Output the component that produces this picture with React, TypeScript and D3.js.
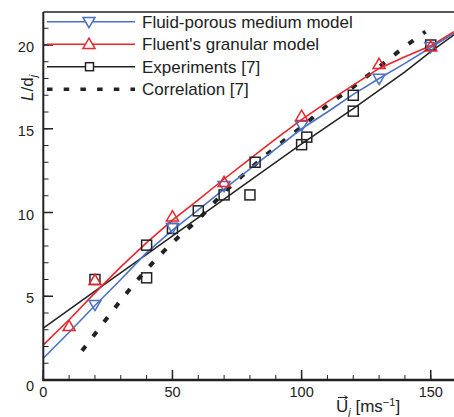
import React from "react";
import * as d3 from "d3";

const xMajor = [0, 50, 100, 150];
const yMajor = [0, 5, 10, 15, 20];

const blueLineU = [0, 10, 20, 30, 40, 50, 60, 70, 80, 90, 100, 110, 120, 130, 140, 150, 159];
const blueLineL = [1.3, 2.85, 4.45, 6.0, 7.6, 8.95, 10.15, 11.4, 12.6, 13.8, 15.0, 16.0, 17.05, 18.0, 18.9, 19.85, 20.7];
const redLineU = [0, 10, 20, 30, 40, 50, 60, 70, 80, 90, 100, 110, 120, 130, 140, 150, 159];
const redLineL = [2.1, 3.6, 5.2, 6.75, 8.2, 9.55, 10.75, 12.0, 13.2, 14.4, 15.55, 16.6, 17.6, 18.6, 19.3, 19.95, 20.8];
const blackLineU = [0, 20, 40, 60, 80, 100, 120, 140, 150, 159];
const blackLineL = [3.1, 5.3, 7.5, 9.7, 11.9, 14.1, 16.2, 18.4, 19.6, 20.6];
const corrU = [15, 20, 30, 40, 50, 60, 70, 80, 90, 100, 110, 120, 130, 140, 148];
const corrL = [1.75, 2.75, 4.75, 6.6, 8.2, 9.6, 11.2, 12.6, 13.9, 15.1, 16.4, 17.5, 18.7, 19.9, 20.8];

const blueMarkU = [20, 50, 70, 100, 130, 150];
const blueMarkL = [4.5, 9.1, 11.6, 15.2, 18.0, 19.9];
const redMarkU = [10, 20, 50, 70, 100, 130, 150];
const redMarkL = [3.2, 5.95, 9.75, 11.8, 15.75, 18.85, 19.9];
const expU = [20, 40, 40, 50, 60, 70, 80, 82, 100, 102, 120, 120, 150];
const expL = [6.0, 6.1, 8.05, 9.05, 10.1, 11.05, 11.05, 13.0, 14.05, 14.5, 16.05, 17.0, 20.0];

const legendLabels = ["Fluid-porous medium model", "Fluent's granular model", "Experiments [7]", "Correlation [7]"];

const BLUE = "#4a72c4";
const RED = "#e8262b";
const BLACK = "#222222";
const FONT = "'Liberation Sans', Arial, Helvetica, sans-serif";

const W = 454, H = 417;

const x = d3.scaleLinear().domain([0, 159]).range([43.3, 454]);
const y = d3.scaleLinear().domain([0, 22]).range([380, 11.5]);

const pairs = (u: number[], l: number[]) => u.map((v, i) => [v, l[i]] as [number, number]);

const lineGen = d3.line<[number, number]>().x(d => x(d[0])).y(d => y(d[1]));
const curveGen = d3.line<[number, number]>().x(d => x(d[0])).y(d => y(d[1])).curve(d3.curveMonotoneX);

const triUp = (cx: number, cy: number, s = 6) => `M${cx},${cy - s}L${cx + s},${cy + s * 0.7}L${cx - s},${cy + s * 0.7}Z`;
const triDown = (cx: number, cy: number, s = 6) => `M${cx},${cy + s}L${cx + s},${cy - s * 0.7}L${cx - s},${cy - s * 0.7}Z`;

export default function App() {
  const xMinor = d3.range(0, 159, 10);
  const yMinor = d3.range(0, 22, 1);
  const legendY = [21.7, 44.2, 66.7, 89.2];
  return (
    <svg width={W} height={H} style={{ position: "absolute", left: 0, top: 0, background: "#fff" }} fontFamily={FONT}>
      <rect x={0} y={0} width={W} height={H} fill="#fff" />
      {/* data lines */}
      <path d={curveGen(pairs(corrU, corrL)) || ""} fill="none" stroke={BLACK} strokeWidth={4} strokeDasharray="6 12" />
      <path d={lineGen(pairs(blackLineU, blackLineL)) || ""} fill="none" stroke={BLACK} strokeWidth={1.5} />
      <path d={lineGen(pairs(blueLineU, blueLineL)) || ""} fill="none" stroke={BLUE} strokeWidth={1.6} />
      <path d={lineGen(pairs(redLineU, redLineL)) || ""} fill="none" stroke={RED} strokeWidth={1.6} />
      {/* markers */}
      {expU.map((u, i) => (
        <rect key={"e" + i} x={x(u) - 5} y={y(expL[i]) - 5} width={10} height={10} fill="none" stroke={BLACK} strokeWidth={1.5} />
      ))}
      {blueMarkU.map((u, i) => (
        <path key={"b" + i} d={triDown(x(u), y(blueMarkL[i]))} fill="none" stroke={BLUE} strokeWidth={1.5} />
      ))}
      {redMarkU.map((u, i) => (
        <path key={"r" + i} d={triUp(x(u), y(redMarkL[i]))} fill="none" stroke={RED} strokeWidth={1.5} />
      ))}
      {/* frame */}
      <line x1={43.3} x2={W} y1={12} y2={12} stroke={BLACK} strokeWidth={1.5} />
      <line x1={43.3} x2={43.3} y1={12} y2={381} stroke={BLACK} strokeWidth={2} />
      <line x1={42.3} x2={W} y1={380} y2={380} stroke={BLACK} strokeWidth={2.5} />
      {/* ticks */}
      {xMinor.map(v => (
        <line key={"xm" + v} x1={x(v)} x2={x(v)} y1={380} y2={375} stroke={BLACK} strokeWidth={1} />
      ))}
      {xMajor.map(v => (
        <g key={"xM" + v}>
          <line x1={x(v)} x2={x(v)} y1={380} y2={370} stroke={BLACK} strokeWidth={1.5} />
          <text x={x(v)} y={397} textAnchor="middle" fontSize={14.5} fill={BLACK}>{v}</text>
        </g>
      ))}
      {yMinor.map(v => (
        <line key={"ym" + v} x1={43.3} x2={48.5} y1={y(v)} y2={y(v)} stroke={BLACK} strokeWidth={1} />
      ))}
      {yMajor.map(v => (
        <g key={"yM" + v}>
          <line x1={43.3} x2={53} y1={y(v)} y2={y(v)} stroke={BLACK} strokeWidth={1.5} />
          <text x={34} y={y(v) + (v === 0 ? 11 : 7)} textAnchor="end" fontSize={14.5} fill={BLACK}>{v}</text>
        </g>
      ))}
      {/* axis titles */}
      <g transform="translate(33,101) rotate(-90)">
        <text x={0} y={0} fontSize={17} fill={BLACK}>
          <tspan fontStyle="italic">L</tspan>
          <tspan>/d</tspan>
          <tspan fontSize={11} dy={4} fontStyle="italic">j</tspan>
        </text>
      </g>
      <text x={336} y={412} fontSize={17} fill={BLACK}>
        <tspan>U</tspan>
        <tspan fontSize={11} dy={4} fontStyle="italic">j</tspan>
        <tspan dy={-4}> [ms</tspan>
        <tspan fontSize={11} dy={-6}>−1</tspan>
        <tspan dy={6}>]</tspan>
      </text>
      <path d="M338,397.5L347,397.5M344.5,395.5L347.5,397.5L344.5,399.5" fill="none" stroke={BLACK} strokeWidth={1} />
      {/* legend */}
      {legendLabels.map((lab, i) => (
        <g key={"lg" + i}>
          {i === 3 ? (
            <line x1={47} x2={135} y1={legendY[i]} y2={legendY[i]} stroke={BLACK} strokeWidth={3.5} strokeDasharray="5.5 11.2" />
          ) : (
            <line x1={47} x2={135} y1={legendY[i]} y2={legendY[i]} stroke={[BLUE, RED, BLACK][i]} strokeWidth={1.6} />
          )}
          {i === 0 && <path d={triDown(89, legendY[i])} fill="#fff" stroke={BLUE} strokeWidth={1.5} />}
          {i === 1 && <path d={triUp(89, legendY[i])} fill="#fff" stroke={RED} strokeWidth={1.5} />}
          {i === 2 && <rect x={85.5} y={legendY[i] - 4} width={8} height={8} fill="#fff" stroke={BLACK} strokeWidth={1.5} />}
          <text x={142} y={legendY[i] + 6} fontSize={17} fill={BLACK}>{lab}</text>
        </g>
      ))}
    </svg>
  );
}
